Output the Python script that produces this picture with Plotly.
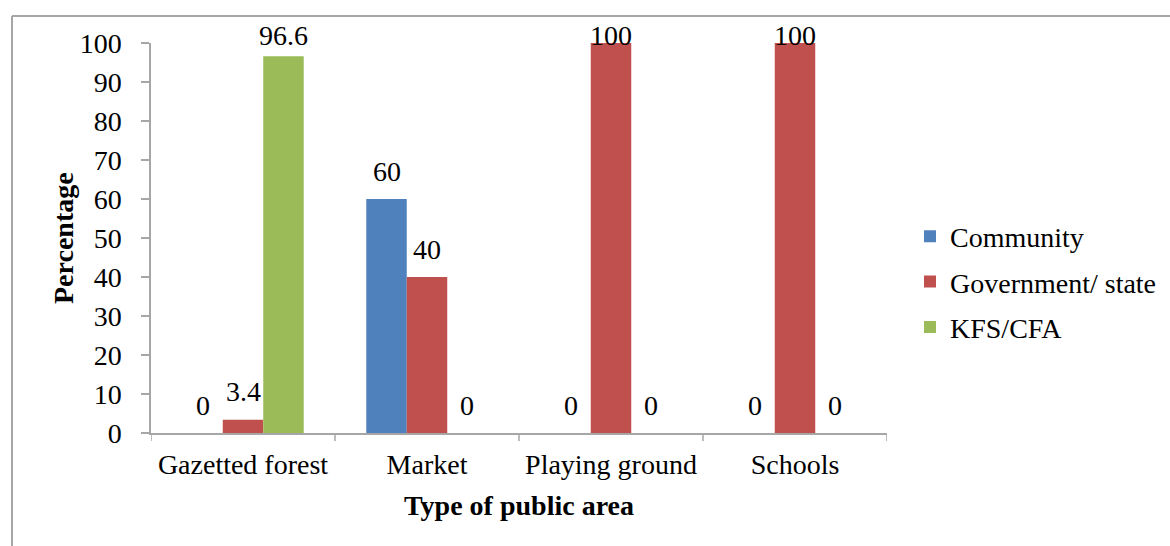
import plotly.graph_objects as go

# Ownership of public areas, by type of area (percent of responses)
areas = ["Gazetted forest", "Market", "Playing ground", "Schools"]
community = [0, 60, 0, 0]
government = [3.4, 40, 100, 100]
kfs_cfa = [96.6, 0, 0, 0]
y_ticks = [0, 10, 20, 30, 40, 50, 60, 70, 80, 90, 100]

series = [
    ("Community", community, "#4F81BD"),
    ("Government/ state", government, "#C0504D"),
    ("KFS/CFA", kfs_cfa, "#9BBB59"),
]

FONT = "Liberation Serif"
FS = 28
BARGAP = 0.34
W = (1 - BARGAP) / len(series)

L, R, T, B = 151, 887, 43, 433
PW, PH = R - L, B - T

def px(xp):
    return (xp - L) / PW

def py(yp):
    return (B - yp) / PH

fig = go.Figure()
annotations = []
for j, (name, vals, color) in enumerate(series):
    fig.add_trace(go.Bar(
        x=list(range(len(areas))), y=vals, name=name,
        marker=dict(color=color, line=dict(width=0)),
        legendgroup=name,
    ))
    for i, v in enumerate(vals):
        # label sits above the bar, kept below the top edge of the chart
        top_px = B - v / 100 * PH
        annotations.append(dict(
            x=i + (j - 1) * W, y=v,
            xref="x", yref="y", text=f"{v:g}", showarrow=False,
            yanchor="middle", yshift=min(28, top_px - 35),
            font=dict(family=FONT, size=FS, color="#000"),
        ))

annotations.append(dict(
    x=0.5, y=py(505), xref="paper", yref="paper", text="<b>Type of public area</b>",
    showarrow=False, yanchor="middle", font=dict(family=FONT, size=FS, color="#000")))
annotations.append(dict(
    x=px(63), y=0.5, xref="paper", yref="paper", text="<b>Percentage</b>",
    showarrow=False, textangle=-90, xanchor="center", yanchor="middle",
    font=dict(family=FONT, size=FS, color="#000")))

fig.update_layout(
    width=1170, height=546,
    margin=dict(l=L, r=1170 - R, t=T, b=546 - B, autoexpand=False),
    paper_bgcolor="white", plot_bgcolor="white",
    barmode="group", bargap=BARGAP, bargroupgap=0,
    font=dict(family=FONT, size=FS, color="#000"),
    annotations=annotations,
    legend=dict(
        x=px(910), y=py(282), xanchor="left", yanchor="middle",
        traceorder="grouped", tracegroupgap=6,
        font=dict(family=FONT, size=FS, color="#000"),
        bgcolor="rgba(0,0,0,0)",
    ),
    shapes=[
        dict(type="line", xref="paper", yref="paper",
             x0=px(12), x1=px(1170), y0=py(16), y1=py(16),
             line=dict(color="#A6A6A6", width=2)),
        dict(type="line", xref="paper", yref="paper",
             x0=px(12), x1=px(12), y0=py(16), y1=py(546),
             line=dict(color="#A6A6A6", width=2)),
    ],
)

fig.update_xaxes(
    range=[-0.5, len(areas) - 0.5],
    tickmode="array", tickvals=list(range(len(areas))), ticktext=areas,
    ticks="", showline=True, linecolor="#A6A6A6", linewidth=1.5,
    showgrid=False, zeroline=False, ticklabelstandoff=6,
    tickfont=dict(family=FONT, size=FS, color="#000"),
)
# boundary tick marks between categories
for k in range(len(areas) + 1):
    fig.add_shape(type="line", xref="x", yref="paper",
                  x0=k - 0.5, x1=k - 0.5, y0=0, y1=-8 / PH,
                  line=dict(color="#A6A6A6", width=1.5))

fig.update_yaxes(
    range=[0, 100], tickvals=y_ticks,
    ticks="outside", ticklen=8, tickcolor="#A6A6A6", tickwidth=1.5,
    showline=True, linecolor="#A6A6A6", linewidth=1.5,
    showgrid=False, zeroline=False, ticklabelstandoff=14,
    tickfont=dict(family=FONT, size=FS, color="#000"),
)

fig.write_html("out.html")
